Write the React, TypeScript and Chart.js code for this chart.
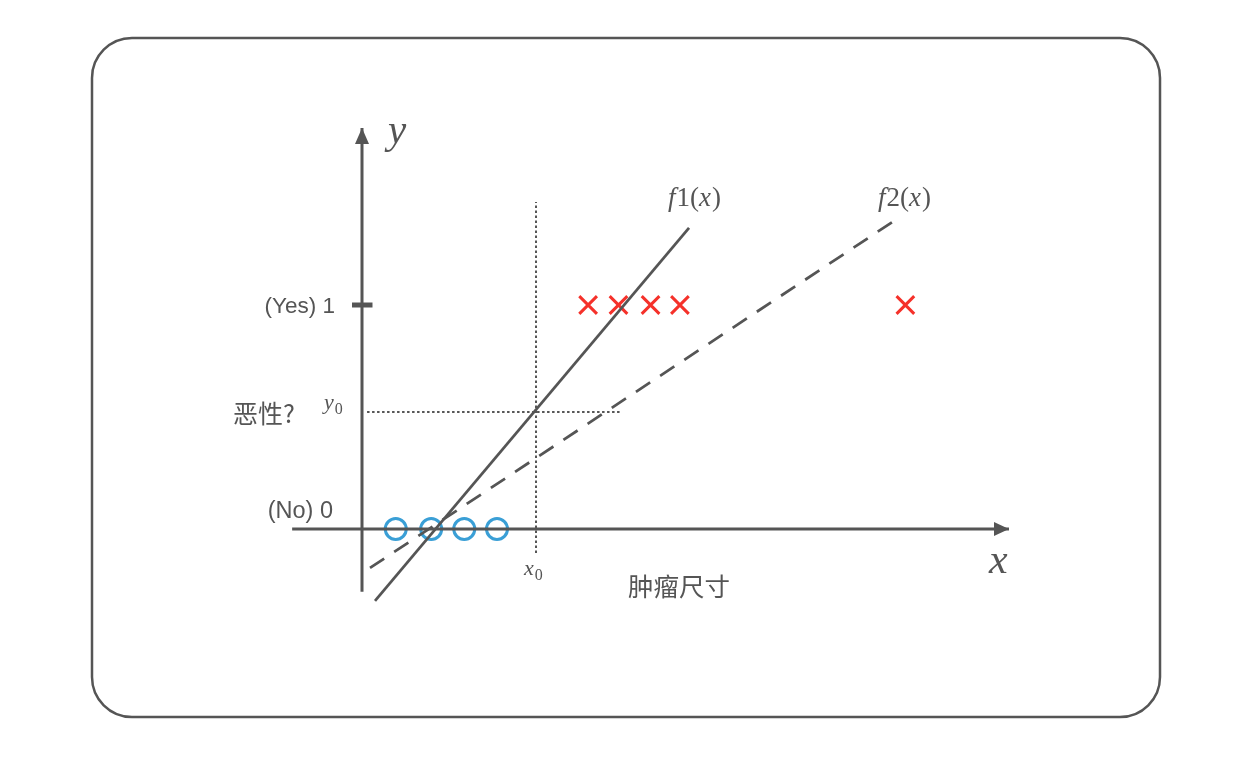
import { useEffect, useRef } from 'react';
import { Chart, registerables } from 'chart.js';

Chart.register(...registerables);

// ---- data (x: tumour size units, y: 0 = benign, 1 = malignant) ----
const benignSizes = [1.0, 2.05, 3.03, 4.0];
const benignLabels = [0, 0, 0, 0];
const malignantSizes = [6.7, 7.6, 8.55, 9.42, 16.1];
const malignantLabels = [1, 1, 1, 1, 1];

const f1X = [0.385, 9.69];
const f1Y = [-0.321, 1.344];
const f2X = [0.237, 15.94];
const f2Y = [-0.174, 1.393];

const xAxisRange = [-2.07, 19.17];
const yAxisRange = [-0.28, 1.79];

const x0 = 5.156;
const y0 = 0.522;
const x0LineY = [-0.107, 1.46];
const y0LineX = [0.15, 7.64];

const tickValues = [0, 1];
const tickLabels = ['(No) 0', '(Yes) 1'];
const yTitle = '恶性?';
const xTitle = '肿瘤尺寸';

const INK = '#555555';
const BLUE = '#3a9fd6';
const RED = '#f5312a';

const SANS = '"Liberation Sans", "Noto Sans CJK SC", sans-serif';
const CJK = '"Noto Sans CJK SC", sans-serif';
const SERIF = '"Liberation Serif", "DejaVu Serif", serif';

type Part = { t: string; italic?: boolean; size: number; dy?: number };

function drawMath(ctx: CanvasRenderingContext2D, parts: Part[], x: number, baseline: number) {
  let cx = x;
  ctx.textAlign = 'left';
  ctx.textBaseline = 'alphabetic';
  for (const p of parts) {
    ctx.font = `${p.italic ? 'italic ' : ''}${p.size}px ${SERIF}`;
    ctx.fillText(p.t, cx, baseline + (p.dy || 0));
    cx += ctx.measureText(p.t).width + (p.italic ? 1 : 0);
  }
}

const decorPlugin = {
  id: 'decor',
  beforeDraw(chart: any) {
    const ctx = chart.ctx as CanvasRenderingContext2D;
    ctx.save();
    ctx.strokeStyle = INK;
    ctx.lineWidth = 2.5;
    ctx.beginPath();
    (ctx as any).roundRect(92, 38, 1068, 679, 40);
    ctx.stroke();
    ctx.restore();
  },
  afterDatasetsDraw(chart: any) {
    const ctx = chart.ctx as CanvasRenderingContext2D;
    const xs = chart.scales.x;
    const ys = chart.scales.y;
    const ox = xs.getPixelForValue(0);
    const oy = ys.getPixelForValue(0);
    ctx.save();
    ctx.fillStyle = INK;
    // x arrow
    const xt = xs.getPixelForValue(xAxisRange[1]);
    ctx.beginPath();
    ctx.moveTo(xt, oy);
    ctx.lineTo(xt - 15, oy - 7);
    ctx.lineTo(xt - 15, oy + 7);
    ctx.closePath();
    ctx.fill();
    // y arrow
    const yt = ys.getPixelForValue(yAxisRange[1]);
    ctx.beginPath();
    ctx.moveTo(ox, yt);
    ctx.lineTo(ox - 7, yt + 16);
    ctx.lineTo(ox + 7, yt + 16);
    ctx.closePath();
    ctx.fill();

    // tick labels
    ctx.fillStyle = INK;
    ctx.font = `22.5px ${SANS}`;
    ctx.textAlign = 'right';
    ctx.textBaseline = 'middle';
    ctx.fillText(tickLabels[1], ox - 27, ys.getPixelForValue(tickValues[1]) + 2);
    ctx.font = `23.5px ${SANS}`;
    ctx.fillText(tickLabels[0], ox - 29, ys.getPixelForValue(tickValues[0]) - 17);

    // axis titles (Chinese)
    ctx.font = `25px ${CJK}`;
    ctx.textAlign = 'left';
    ctx.fillText(yTitle, 233, ys.getPixelForValue(y0) + 1);
    ctx.font = `25.5px ${CJK}`;
    ctx.fillText(xTitle, 628, oy + 57);

    // math labels
    drawMath(ctx, [{ t: 'y', italic: true, size: 41 }], ox + 26, yt + 15);
    drawMath(ctx, [{ t: 'x', italic: true, size: 42 }], xt - 20, oy + 44);
    drawMath(ctx, [
      { t: 'y', italic: true, size: 22 },
      { t: '0', size: 16, dy: 5 },
    ], ox - 38, ys.getPixelForValue(y0) - 3);
    drawMath(ctx, [
      { t: 'x', italic: true, size: 22 },
      { t: '0', size: 16, dy: 5 },
    ], xs.getPixelForValue(x0) - 12, oy + 46);
    const fl = (n: string): Part[] => [
      { t: 'f', italic: true, size: 27 },
      { t: n, size: 27 },
      { t: '(', size: 27 },
      { t: 'x', italic: true, size: 27 },
      { t: ')', size: 27 },
    ];
    drawMath(ctx, fl('1'), 668, 206);
    drawMath(ctx, fl('2'), 878, 206);
    ctx.restore();
  },
};

function seg(xa: number[], ya: number[]) {
  return xa.map((x, i) => ({ x, y: ya[i] }));
}

export default function App() {
  const ref = useRef<HTMLCanvasElement | null>(null);
  useEffect(() => {
    if (!ref.current) return;
    const lineBase = { showLine: true, pointRadius: 0, borderColor: INK, fill: false, borderCapStyle: 'butt' as const, clip: false as const };
    const chart = new Chart(ref.current, {
      type: 'scatter',
      data: {
        datasets: [
          { ...lineBase, label: 'x axis', data: seg(xAxisRange, [0, 0]), borderWidth: 3 },
          { ...lineBase, label: 'y axis', data: seg([0, 0], yAxisRange), borderWidth: 3 },
          { ...lineBase, label: 'tick', data: seg([-0.296, 0.311], [tickValues[1], tickValues[1]]), borderWidth: 5 },
          { ...lineBase, label: 'x0', data: seg([x0, x0], x0LineY), borderWidth: 2, borderDash: [2.5, 2.5] },
          { ...lineBase, label: 'y0', data: seg(y0LineX, [y0, y0]), borderWidth: 2, borderDash: [2.5, 2.5] },
          { ...lineBase, label: 'f2', data: seg(f2X, f2Y), borderWidth: 2.75, borderDash: [17, 12] },
          { ...lineBase, label: 'f1', data: seg(f1X, f1Y), borderWidth: 2.75 },
          {
            label: 'benign',
            data: seg(benignSizes, benignLabels),
            pointStyle: 'circle',
            pointRadius: 10.5,
            pointBorderWidth: 3,
            borderWidth: 3,
            borderColor: BLUE,
            backgroundColor: 'rgba(0,0,0,0)',
            clip: false,
          },
          {
            label: 'malignant',
            data: seg(malignantSizes, malignantLabels),
            pointStyle: 'crossRot',
            pointRadius: 12.5,
            pointBorderWidth: 3,
            borderWidth: 3,
            borderColor: RED,
            backgroundColor: RED,
            clip: false,
          },
        ],
      },
      options: {
        responsive: false,
        animation: false,
        events: [],
        layout: { padding: { left: 92, right: 70, top: 81, bottom: 19 } },
        plugins: { legend: { display: false }, tooltip: { enabled: false } },
        scales: {
          x: { type: 'linear', min: -8, max: 24, display: false },
          y: { type: 'linear', min: -1, max: 2, display: false },
        },
      },
      plugins: [decorPlugin],
    });
    return () => chart.destroy();
  }, []);
  return (
    <div style={{ position: 'fixed', left: 0, top: 0, width: 1242, height: 772, background: '#fff' }}>
      <canvas ref={ref} width={1242} height={772} style={{ width: 1242, height: 772, display: 'block' }} />
    </div>
  );
}
